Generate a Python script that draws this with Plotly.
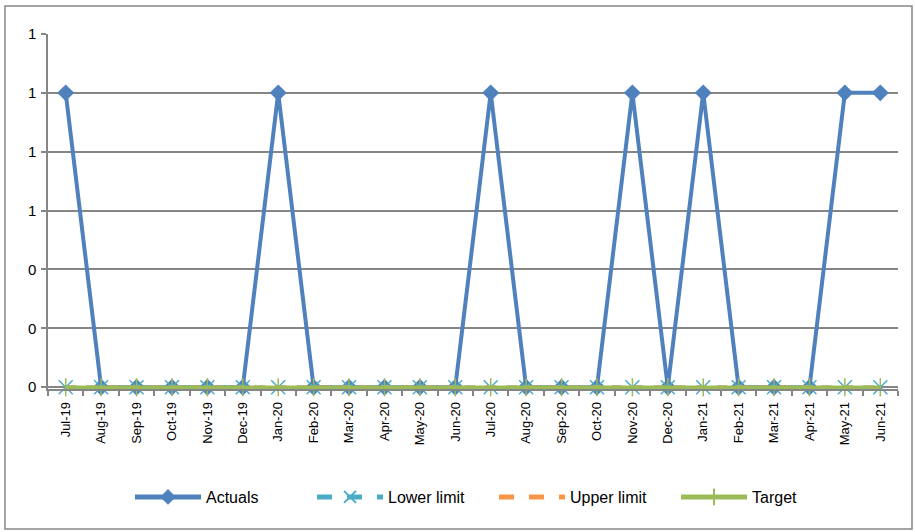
import plotly.graph_objects as go

months = ["Jul-19", "Aug-19", "Sep-19", "Oct-19", "Nov-19", "Dec-19",
          "Jan-20", "Feb-20", "Mar-20", "Apr-20", "May-20", "Jun-20",
          "Jul-20", "Aug-20", "Sep-20", "Oct-20", "Nov-20", "Dec-20",
          "Jan-21", "Feb-21", "Mar-21", "Apr-21", "May-21", "Jun-21"]
actuals = [1, 0, 0, 0, 0, 0, 1, 0, 0, 0, 0, 0,
           1, 0, 0, 0, 1, 0, 1, 0, 0, 0, 1, 1]
lower_limit = [0] * 24
upper_limit = [0] * 24
target = [0] * 24

W, H = 915, 532
L, R, T, B = 48, 17, 34, 143
FONT = "Liberation Sans"

fig = go.Figure()
fig.add_trace(go.Scatter(
    x=months, y=actuals, name="Actuals", mode="lines+markers",
    line=dict(color="#4F81BD", width=4),
    marker=dict(symbol="diamond", size=13, color="#4F81BD"),
    cliponaxis=False))
fig.add_trace(go.Scatter(
    x=months, y=lower_limit, name="Lower limit", mode="lines+markers",
    line=dict(color="#4BACC6", width=3.5, dash="dash"),
    marker=dict(symbol="x-thin-open", size=14, color="#4BACC6",
                line=dict(width=1.5, color="#4BACC6")),
    cliponaxis=False))
fig.add_trace(go.Scatter(
    x=months, y=upper_limit, name="Upper limit", mode="lines",
    line=dict(color="#F79646", width=3.5, dash="dash"),
    cliponaxis=False))
fig.add_trace(go.Scatter(
    x=months, y=target, name="Target", mode="lines+markers",
    line=dict(color="#9BBB59", width=3.5),
    marker=dict(symbol="line-ns-open", size=13, color="#9BBB59",
                line=dict(width=1.5, color="#9BBB59")),
    cliponaxis=False))

# outer chart border
pw, ph = W - L - R, H - T - B
fig.add_shape(type="rect", xref="paper", yref="paper", layer="below",
              x0=(5 - L) / pw, x1=(912 - L) / pw,
              y0=(H - B - 529) / ph, y1=(H - B - 6) / ph,
              line=dict(color="#868686", width=1.5))

fig.update_layout(
    width=W, height=H,
    margin=dict(l=L, r=R, t=T, b=B),
    paper_bgcolor="white", plot_bgcolor="white",
    font=dict(family=FONT, color="#000000"),
    showlegend=True,
    legend=dict(orientation="h", x=(130 - L) / pw, xanchor="left",
                y=(H - B - 497) / ph, yanchor="middle",
                font=dict(size=16), itemwidth=66, itemsizing="constant",
                entrywidth=101, traceorder="normal"),
    xaxis=dict(type="category", range=[-0.5, 23.5],
               showline=True, linecolor="#868686", linewidth=1.5,
               ticks="outside", tickson="boundaries", ticklen=5,
               tickcolor="#868686", tickwidth=1.5,
               tickangle=-90, tickfont=dict(size=13),
               ticklabelstandoff=6,
               showgrid=False, zeroline=False, fixedrange=True),
    yaxis=dict(range=[-0.006, 1.2], tickvals=[0, 0.2, 0.4, 0.6, 0.8, 1.0, 1.2],
               tickformat=".0f",
               showline=True, linecolor="#868686", linewidth=1.5,
               ticks="outside", ticklen=5, tickcolor="#868686",
               tickwidth=1.5, tickfont=dict(size=15),
               ticklabelstandoff=2,
               showgrid=True, gridcolor="#868686", gridwidth=1.5,
               zeroline=False, fixedrange=True),
)

fig.write_html("out.html")
